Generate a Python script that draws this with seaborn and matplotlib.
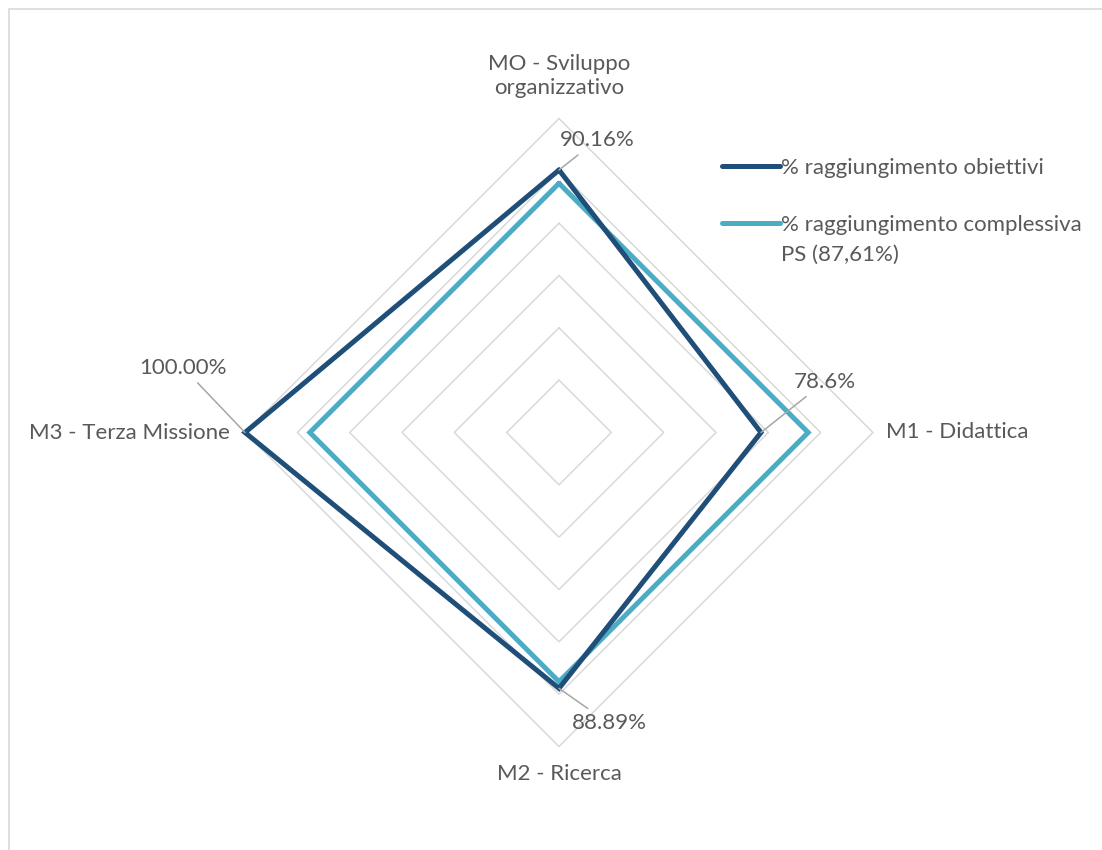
import numpy as np
import matplotlib
matplotlib.use("Agg")
import matplotlib.pyplot as plt
from matplotlib.lines import Line2D
import seaborn as sns

# ---- data ----
categories = ["MO - Sviluppo\norganizzativo", "M1 - Didattica", "M2 - Ricerca", "M3 - Terza Missione"]
obiettivi = [0.9016, 0.786, 0.8889, 1.0]
obiettivi_labels = ["90.16%", "78.6%", "88.89%", "100.00%"]
complessiva = [0.8761, 0.8761, 0.8761, 0.8761]
series_names = ["% raggiungimento obiettivi", "% raggiungimento complessiva\nPS (87,61%)"]
r_min, r_max = 0.4, 1.0
grid_levels = [0.5, 0.6, 0.7, 0.8, 0.9, 1.0]

sns.set_theme(style="white")
plt.rcParams["font.family"] = ["Lato", "DejaVu Sans"]

TXT = "#595959"
DARK = "#1F4E79"
LIGHT = "#4BACC6"
GRID = "#D9D9D9"
FS = 16

W, H = 1102, 850
fig = plt.figure(figsize=(W / 100, H / 100), dpi=100)
cx, cy, R = 559, 432.5, 314
ax = fig.add_axes([(cx - R) / W, (H - cy - R) / H, 2 * R / W, 2 * R / H], projection="polar")
ax.set_theta_zero_location("N")
ax.set_theta_direction(-1)
ax.set_ylim(r_min, r_max)
ax.set_xticks([])
ax.set_yticks([])
ax.grid(False)
ax.spines["polar"].set_visible(False)
ax.patch.set_alpha(0)

n = len(categories)
angles = np.arange(n) * 2 * np.pi / n
ang_c = np.append(angles, 2 * np.pi)

# grid diamonds
for lv in grid_levels:
    ax.plot(ang_c, [lv] * (n + 1), color=GRID, lw=1.1, clip_on=False, zorder=1)

def closed(v):
    return list(v) + [v[0]]

LW = 3.6
sns.lineplot(x=ang_c, y=closed(complessiva), ax=ax, sort=False, color=LIGHT, lw=LW,
             solid_joinstyle="miter", label=series_names[1].split("\n")[0], clip_on=False, zorder=3)
sns.lineplot(x=ang_c, y=closed(obiettivi), ax=ax, sort=False, color=DARK, lw=LW,
             solid_joinstyle="miter", label=series_names[0], clip_on=False, zorder=4)
ax.get_legend().remove()

# data labels with leader lines
offsets = [(38, 30), (64, 51), (50, -35), (-62, 65)]
for a, v, lab, off in zip(angles, obiettivi, obiettivi_labels, offsets):
    ax.annotate(lab, xy=(a, v), xytext=off, textcoords="offset pixels",
                ha="center", va="center", fontsize=FS, color=TXT,
                arrowprops=dict(arrowstyle="-", color="#A6A6A6", lw=1.1, shrinkA=2, shrinkB=0),
                annotation_clip=False, zorder=5)

# category labels
cat_off = [((0, 43), "center", "center"), ((13, 0), "left", "center"),
           ((0, -28), "center", "center"), ((-15, 0), "right", "center")]
for a, c, (off, ha, va) in zip(angles, categories, cat_off):
    ax.annotate(c, xy=(a, r_max), xytext=off, textcoords="offset pixels",
                ha=ha, va=va, fontsize=FS, color=TXT, linespacing=1.25,
                annotation_clip=False, multialignment="center")

# legend
handles = [Line2D([], [], color=DARK, lw=LW, solid_capstyle="round"),
           Line2D([], [], color=LIGHT, lw=LW, solid_capstyle="round")]
leg = fig.legend(handles, [series_names[0], series_names[1].split("\n")[0]],
                 loc="upper left", bbox_to_anchor=(722 / W, 1 - 158 / H),
                 frameon=False, fontsize=FS, handlelength=2.6, handletextpad=0.05,
                 borderpad=0, borderaxespad=0, labelspacing=1.65)
for t in leg.get_texts():
    t.set_color(TXT)
second = leg.get_texts()[1]
fig.canvas.draw()
ax.annotate(series_names[1].split("\n")[1], xy=(0, 0), xycoords=second,
            xytext=(0, -10), textcoords="offset pixels", ha="left", va="top",
            fontsize=FS, color=TXT, annotation_clip=False)

# chart border (top and left visible)
fig.add_artist(Line2D([8.5 / W, 8.5 / W], [0, 1 - 9 / H], transform=fig.transFigure, color=GRID, lw=1.2))
fig.add_artist(Line2D([8.5 / W, 1], [1 - 9 / H, 1 - 9 / H], transform=fig.transFigure, color=GRID, lw=1.2))

fig.savefig("out.png", dpi=100, facecolor="white")
